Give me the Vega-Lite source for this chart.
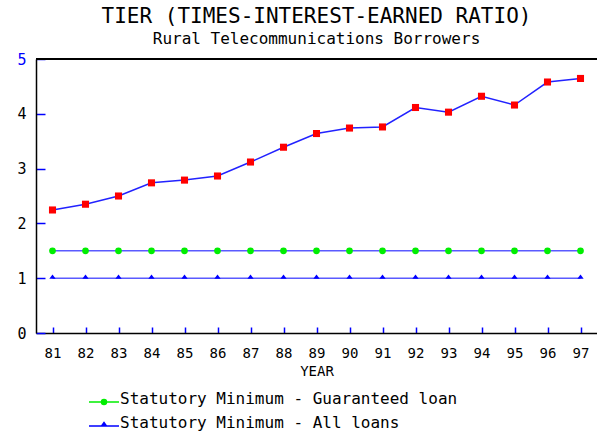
{
  "$schema": "https://vega.github.io/schema/vega-lite/v6.json",
  "autosize": "none",
  "width": 561,
  "height": 274,
  "padding": {"left": 36, "top": 59, "right": 0, "bottom": 101},
  "background": "white",
  "title": {
    "text": "TIER (TIMES-INTEREST-EARNED RATIO)",
    "subtitle": "Rural Telecommunications Borrowers",
    "font": "DejaVu Sans Mono",
    "fontSize": 21,
    "fontWeight": "normal",
    "color": "black",
    "subtitleFont": "DejaVu Sans Mono",
    "subtitleFontSize": 16,
    "subtitleColor": "black",
    "subtitlePadding": 4,
    "anchor": "middle",
    "offset": 5
  },
  "config": {
    "view": {"stroke": null},
    "font": "DejaVu Sans Mono"
  },
  "data": {
    "values": [
      {"year": "81", "series": "TIER", "value": 2.245},
      {"year": "82", "series": "TIER", "value": 2.35},
      {"year": "83", "series": "TIER", "value": 2.5},
      {"year": "84", "series": "TIER", "value": 2.74},
      {"year": "85", "series": "TIER", "value": 2.79},
      {"year": "86", "series": "TIER", "value": 2.865},
      {"year": "87", "series": "TIER", "value": 3.12},
      {"year": "88", "series": "TIER", "value": 3.39},
      {"year": "89", "series": "TIER", "value": 3.64},
      {"year": "90", "series": "TIER", "value": 3.74},
      {"year": "91", "series": "TIER", "value": 3.76},
      {"year": "92", "series": "TIER", "value": 4.115},
      {"year": "93", "series": "TIER", "value": 4.03},
      {"year": "94", "series": "TIER", "value": 4.32},
      {"year": "95", "series": "TIER", "value": 4.16},
      {"year": "96", "series": "TIER", "value": 4.58},
      {"year": "97", "series": "TIER", "value": 4.645},
      {"year": "81", "series": "Statutory Minimum - Guaranteed loan", "value": 1.5},
      {"year": "82", "series": "Statutory Minimum - Guaranteed loan", "value": 1.5},
      {"year": "83", "series": "Statutory Minimum - Guaranteed loan", "value": 1.5},
      {"year": "84", "series": "Statutory Minimum - Guaranteed loan", "value": 1.5},
      {"year": "85", "series": "Statutory Minimum - Guaranteed loan", "value": 1.5},
      {"year": "86", "series": "Statutory Minimum - Guaranteed loan", "value": 1.5},
      {"year": "87", "series": "Statutory Minimum - Guaranteed loan", "value": 1.5},
      {"year": "88", "series": "Statutory Minimum - Guaranteed loan", "value": 1.5},
      {"year": "89", "series": "Statutory Minimum - Guaranteed loan", "value": 1.5},
      {"year": "90", "series": "Statutory Minimum - Guaranteed loan", "value": 1.5},
      {"year": "91", "series": "Statutory Minimum - Guaranteed loan", "value": 1.5},
      {"year": "92", "series": "Statutory Minimum - Guaranteed loan", "value": 1.5},
      {"year": "93", "series": "Statutory Minimum - Guaranteed loan", "value": 1.5},
      {"year": "94", "series": "Statutory Minimum - Guaranteed loan", "value": 1.5},
      {"year": "95", "series": "Statutory Minimum - Guaranteed loan", "value": 1.5},
      {"year": "96", "series": "Statutory Minimum - Guaranteed loan", "value": 1.5},
      {"year": "97", "series": "Statutory Minimum - Guaranteed loan", "value": 1.5},
      {"year": "81", "series": "Statutory Minimum - All loans", "value": 1.0},
      {"year": "82", "series": "Statutory Minimum - All loans", "value": 1.0},
      {"year": "83", "series": "Statutory Minimum - All loans", "value": 1.0},
      {"year": "84", "series": "Statutory Minimum - All loans", "value": 1.0},
      {"year": "85", "series": "Statutory Minimum - All loans", "value": 1.0},
      {"year": "86", "series": "Statutory Minimum - All loans", "value": 1.0},
      {"year": "87", "series": "Statutory Minimum - All loans", "value": 1.0},
      {"year": "88", "series": "Statutory Minimum - All loans", "value": 1.0},
      {"year": "89", "series": "Statutory Minimum - All loans", "value": 1.0},
      {"year": "90", "series": "Statutory Minimum - All loans", "value": 1.0},
      {"year": "91", "series": "Statutory Minimum - All loans", "value": 1.0},
      {"year": "92", "series": "Statutory Minimum - All loans", "value": 1.0},
      {"year": "93", "series": "Statutory Minimum - All loans", "value": 1.0},
      {"year": "94", "series": "Statutory Minimum - All loans", "value": 1.0},
      {"year": "95", "series": "Statutory Minimum - All loans", "value": 1.0},
      {"year": "96", "series": "Statutory Minimum - All loans", "value": 1.0},
      {"year": "97", "series": "Statutory Minimum - All loans", "value": 1.0}
    ]
  },
  "encoding": {
    "x": {
      "field": "year",
      "type": "ordinal",
      "scale": {"type": "point", "padding": 0.5},
      "axis": {
        "title": "YEAR",
        "titleFont": "DejaVu Sans Mono",
        "titleFontSize": 14,
        "titleFontWeight": "normal",
        "titleColor": "black",
        "titlePadding": 4,
        "labelAngle": 0,
        "labelFont": "DejaVu Sans Mono",
        "labelFontSize": 14,
        "labelColor": "black",
        "labelPadding": 19,
        "tickColor": "blue",
        "tickSize": -6,
        "tickWidth": 1.5,
        "domainColor": "black",
        "domainWidth": 1.5,
        "grid": false
      }
    },
    "y": {
      "field": "value",
      "type": "quantitative",
      "scale": {"domain": [0, 5], "nice": false, "zero": true},
      "axis": {
        "title": null,
        "values": [0, 1, 2, 3, 4, 5],
        "labelFont": "DejaVu Sans Mono",
        "labelFontSize": 15,
        "labelColor": {"condition": {"test": "datum.value === 5", "value": "blue"}, "value": "black"},
        "labelPadding": 19,
        "tickColor": "blue",
        "tickSize": -9,
        "tickWidth": 1.5,
        "domainColor": "black",
        "domainWidth": 1.5,
        "grid": false
      }
    }
  },
  "layer": [
    {
      "mark": {"type": "rule", "color": "black", "strokeWidth": 1.5},
      "encoding": {"y": {"datum": 5}, "x": null}
    },
    {
      "transform": [{"filter": "datum.series !== 'TIER'"}],
      "mark": {"type": "line", "color": "#5a5aff", "strokeWidth": 1.6},
      "encoding": {"detail": {"field": "series"}}
    },
    {
      "transform": [{"filter": "datum.series === 'TIER'"}],
      "mark": {"type": "line", "color": "#2222ff", "strokeWidth": 1.5}
    },
    {
      "mark": {"type": "point", "filled": true, "opacity": 1, "strokeWidth": 0},
      "encoding": {
        "color": {
          "field": "series",
          "type": "nominal",
          "scale": {
            "domain": ["TIER", "Statutory Minimum - Guaranteed loan", "Statutory Minimum - All loans"],
            "range": ["#ff0000", "#00ee00", "#0000ff"]
          },
          "legend": null
        },
        "shape": {
          "field": "series",
          "type": "nominal",
          "scale": {
            "domain": ["TIER", "Statutory Minimum - Guaranteed loan", "Statutory Minimum - All loans"],
            "range": ["square", "circle", "M-1,0.2L1,0.2L0,-1.2Z"]
          },
          "legend": null
        },
        "size": {
          "field": "series",
          "type": "nominal",
          "scale": {
            "domain": ["TIER", "Statutory Minimum - Guaranteed loan", "Statutory Minimum - All loans"],
            "range": [50, 40, 36]
          },
          "legend": null
        }
      }
    },
    {
      "transform": [{"filter": "false"}],
      "mark": {"type": "point", "filled": true, "opacity": 1, "strokeWidth": 1.5},
      "encoding": {
        "color": {
          "field": "series",
          "type": "nominal",
          "scale": {
            "domain": ["Statutory Minimum - Guaranteed loan", "Statutory Minimum - All loans"],
            "range": ["#00ee00", "#0000ff"]
          },
          "legend": {
            "title": null,
            "orient": "none",
            "legendX": 57,
            "legendY": 329,
            "padding": 0,
            "rowPadding": 4,
            "labelFont": "DejaVu Sans Mono",
            "labelFontSize": 16,
            "labelColor": "black",
            "labelOffset": 5,
            "labelLimit": 600,
            "symbolSize": 400,
            "symbolStrokeWidth": 1.5
          }
        },
        "stroke": {
          "field": "series",
          "type": "nominal",
          "scale": {
            "domain": ["Statutory Minimum - Guaranteed loan", "Statutory Minimum - All loans"],
            "range": ["#00ee00", "#0000ff"]
          },
          "legend": {
            "title": null,
            "orient": "none",
            "legendX": 57,
            "legendY": 329,
            "padding": 0,
            "rowPadding": 4,
            "labelFont": "DejaVu Sans Mono",
            "labelFontSize": 16,
            "labelColor": "black",
            "labelOffset": 5,
            "labelLimit": 600,
            "symbolSize": 400,
            "symbolStrokeWidth": 1.5
          }
        },
        "shape": {
          "field": "series",
          "type": "nominal",
          "scale": {
            "domain": ["Statutory Minimum - Guaranteed loan", "Statutory Minimum - All loans"],
            "range": [
              "M-1.5,0.3H1.5M0.25,0.3A0.25,0.25 0 1,1 -0.25,0.3A0.25,0.25 0 1,1 0.25,0.3",
              "M-1.5,0.3H1.5M-0.25,0.3L0.25,0.3L0,-0.05Z"
            ]
          },
          "legend": {
            "title": null,
            "orient": "none",
            "legendX": 57,
            "legendY": 329,
            "padding": 0,
            "rowPadding": 4,
            "labelFont": "DejaVu Sans Mono",
            "labelFontSize": 16,
            "labelColor": "black",
            "labelOffset": 5,
            "labelLimit": 600,
            "symbolSize": 400,
            "symbolStrokeWidth": 1.5
          }
        }
      }
    }
  ],
  "resolve": {"scale": {"color": "independent", "shape": "independent", "stroke": "independent"}}
}
